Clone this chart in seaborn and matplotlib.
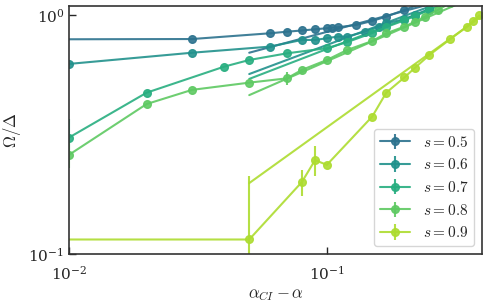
import numpy as np
import matplotlib
matplotlib.use("Agg")
import matplotlib.pyplot as plt
import matplotlib.ticker as mticker
import seaborn as sns

# data
s_values = [0.5, 0.6, 0.7, 0.8, 0.9]

x_05 = [0.005, 0.03, 0.06, 0.07, 0.08, 0.09, 0.1, 0.105, 0.11, 0.13, 0.15, 0.17, 0.2, 0.25]
y_05 = [0.79, 0.793, 0.838, 0.851, 0.861, 0.871, 0.88, 0.885, 0.888, 0.908, 0.944, 0.984, 1.05, 1.15]
e_05 = [0, 0, 0, 0, 0, 0, 0, 0, 0, 0, 0, 0, 0, 0]

x_06 = [0.01, 0.03, 0.06, 0.08, 0.09, 0.1, 0.11, 0.12, 0.14, 0.16, 0.17, 0.2, 0.22, 0.25]
y_06 = [0.624, 0.695, 0.737, 0.786, 0.786, 0.799, 0.812, 0.812, 0.851, 0.894, 0.923, 0.96, 1.0, 1.06]
e_06 = [0, 0, 0, 0, 0, 0, 0, 0, 0, 0, 0, 0, 0, 0]

x_07 = [0.01, 0.02, 0.04, 0.05, 0.07, 0.1, 0.12, 0.15, 0.17, 0.2, 0.22, 0.25]
y_07 = [0.307, 0.473, 0.608, 0.648, 0.691, 0.726, 0.77, 0.84, 0.89, 0.95, 0.99, 1.05]
e_07 = [0.06, 0, 0, 0, 0, 0, 0, 0, 0, 0, 0, 0]

x_08 = [0.01, 0.02, 0.03, 0.05, 0.07, 0.08, 0.1, 0.12, 0.15, 0.17, 0.2, 0.22, 0.24, 0.27, 0.3]
y_08 = [0.26, 0.424, 0.486, 0.521, 0.543, 0.589, 0.648, 0.714, 0.778, 0.838, 0.894, 0.938, 0.984, 1.05, 1.12]
e_08 = [0.03, 0, 0, 0, 0.035, 0, 0, 0, 0, 0, 0, 0, 0, 0, 0]

x_09 = [0.005, 0.05, 0.08, 0.09, 0.1, 0.15, 0.17, 0.2, 0.22, 0.25, 0.3, 0.35, 0.37, 0.39]
y_09 = [0.115, 0.115, 0.2, 0.247, 0.236, 0.376, 0.473, 0.548, 0.602, 0.68, 0.79, 0.894, 0.947, 0.995]
e_09 = [0, 0.097, 0.025, 0.035, 0, 0, 0, 0, 0, 0, 0, 0, 0, 0]

# power-law fits, drawn as straight segments (end points)
fit_x = [0.05, 0.4]
fit_y = [[0.695, 1.27], [0.566, 1.31], [0.54, 1.28], [0.462, 1.23], [0.198, 0.992]]

xs = [x_05, x_06, x_07, x_08, x_09]
ys = [y_05, y_06, y_07, y_08, y_09]
es = [e_05, e_06, e_07, e_08, e_09]

sns.set_theme(style="ticks")
plt.rcParams['font.family'] = ['DejaVu Serif']
plt.rcParams['mathtext.fontset'] = 'cm'
plt.rcParams['font.size'] = 11
plt.rcParams['xtick.direction'] = 'in'
plt.rcParams['ytick.direction'] = 'in'

colors = sns.color_palette("viridis", 7)[2:]

fig, ax = plt.subplots(figsize=(4.98, 3.08), dpi=100)
fig.subplots_adjust(left=0.1386, right=0.968, top=0.9805, bottom=0.1753)

for i, s in enumerate(s_values):
    c = colors[i]
    ax.errorbar(xs[i], ys[i], yerr=es[i], color=c, marker='o', markersize=5.5,
                lw=1.5, elinewidth=1.5, alpha=0.9, label=rf'$s = {s}$')
    ax.plot(fit_x, fit_y[i], color=c, lw=1.5, alpha=0.9)

ax.set_xscale('log')
ax.set_yscale('log')
ax.set_xlim(0.01, 0.4)
ax.set_ylim(0.1, 1.09)
ax.xaxis.set_minor_locator(mticker.NullLocator())
ax.yaxis.set_minor_locator(mticker.NullLocator())
ax.tick_params(axis='both', labelsize=11, length=5, width=1)
ax.tick_params(axis='x', pad=8)
for sp in ax.spines.values():
    sp.set_color('#333333')
    sp.set_linewidth(1.2)

ax.set_xlabel(r'$\alpha_{CI} - \alpha$', fontsize=12, labelpad=2)
ax.set_ylabel(r'$\Omega / \Delta$', fontsize=12)
ax.legend(loc='lower right', fontsize=11, frameon=True)

plt.savefig('out.png', dpi=100)
